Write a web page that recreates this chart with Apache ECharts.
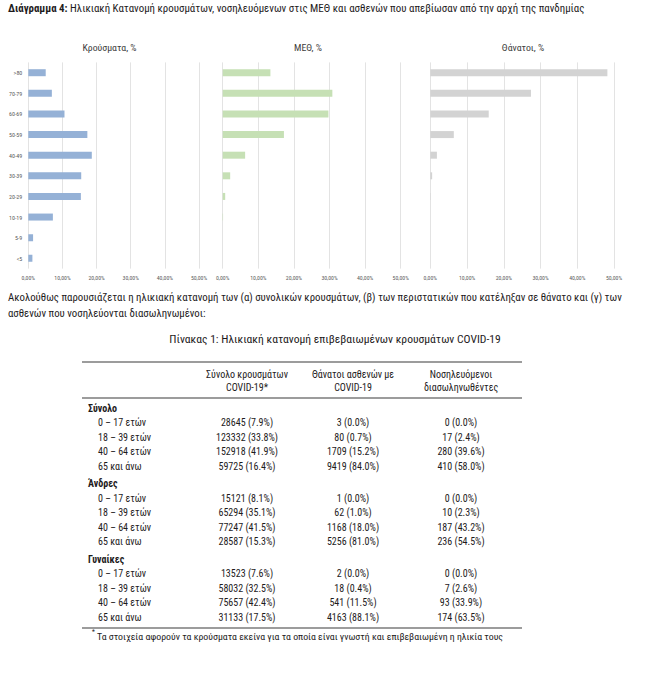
<!DOCTYPE html>
<html>
<head>
<meta charset="utf-8">
<script src="https://cdn.jsdelivr.net/npm/echarts@6/dist/echarts.min.js"></script>
<style>
html,body{margin:0;padding:0;background:#fff;}
#chart{width:666px;height:692px;}
</style>
</head>
<body>
<div id="chart"></div>
<script>
// ---------- DATA ----------
const categories = ['<5', '5-9', '10-19', '20-29', '30-39', '40-49', '50-59', '60-69', '70-79', '>80'];
const casesPct  = [1.2, 1.4, 7.2, 15.4, 15.5, 18.6, 17.3, 10.6, 6.9, 5.1];
const icuPct    = [0, 0, 0.1, 0.7, 2.1, 6.3, 17.2, 29.7, 30.8, 13.4];
const deathsPct = [0, 0, 0, 0.1, 0.5, 1.8, 6.4, 15.9, 27.4, 48.2];
const panelTitles = ['Κρούσματα, %', 'ΜΕΘ, %', 'Θάνατοι, %'];
const tickLabels = ['0,00%', '10,00%', '20,00%', '30,00%', '40,00%', '50,00%'];

const tableTitle = 'Πίνακας 1: Ηλικιακή κατανομή επιβεβαιωμένων κρουσμάτων COVID-19';
const tableHeaders = [['Σύνολο κρουσμάτων', 'COVID-19*'], ['Θάνατοι ασθενών με', 'COVID-19'], ['Νοσηλευόμενοι', 'διασωληνωθέντες']];
const groups = ['Σύνολο', 'Άνδρες', 'Γυναίκες'];
const ageGroups = ['0 – 17 ετών', '18 – 39 ετών', '40 – 64 ετών', '65 και άνω'];
// [count, percent] per age group, per column
const totalCases   = [[28645, 7.9], [123332, 33.8], [152918, 41.9], [59725, 16.4]];
const totalDeaths  = [[3, 0.0], [80, 0.7], [1709, 15.2], [9419, 84.0]];
const totalIntub   = [[0, 0.0], [17, 2.4], [280, 39.6], [410, 58.0]];
const menCases     = [[15121, 8.1], [65294, 35.1], [77247, 41.5], [28587, 15.3]];
const menDeaths    = [[1, 0.0], [62, 1.0], [1168, 18.0], [5256, 81.0]];
const menIntub     = [[0, 0.0], [10, 2.3], [187, 43.2], [236, 54.5]];
const womenCases   = [[13523, 7.6], [58032, 32.5], [75657, 42.4], [31133, 17.5]];
const womenDeaths  = [[2, 0.0], [18, 0.4], [541, 11.5], [4163, 88.1]];
const womenIntub   = [[0, 0.0], [7, 2.6], [93, 33.9], [174, 63.5]];

const titleBold = 'Διάγραμμα 4:';
const titleRest = ' Ηλικιακή Κατανομή κρουσμάτων, νοσηλευόμενων στις ΜΕΘ και ασθενών που απεβίωσαν από την αρχή της πανδημίας';
const paraLines = [
  'Ακολούθως παρουσιάζεται η ηλικιακή κατανομή των (α) συνολικών κρουσμάτων, (β) των περιστατικών που κατέληξαν σε θάνατο και (γ) των',
  'ασθενών που νοσηλεύονται διασωληνωμένοι:'
];
const footnote = 'Τα στοιχεία αφορούν τα κρούσματα εκείνα για τα οποία είναι γνωστή και επιβεβαιωμένη η ηλικία τους';

// ---------- LAYOUT / STYLE ----------
const FONT = "'Liberation Sans Narrow', 'Roboto Condensed', 'Liberation Sans', sans-serif";
const TXT = '#1e1b1c';
const colors = ['#95b1d6', '#c6e0b5', '#d3d3d3'];
const seriesData = [casesPct, icuPct, deathsPct];
const grids = [
  {left: 28.3, width: 170.7},
  {left: 222.7, width: 178},
  {left: 430.3, width: 183.7}
];
const gridTop = 62.4, gridHeight = 206.2;

const chart = echarts.init(document.getElementById('chart'), null, {renderer: 'svg'});

const option = {
  backgroundColor: '#fff',
  animation: false,
  grid: grids.map(g => ({left: g.left, width: g.width, top: gridTop, height: gridHeight, containLabel: false})),
  xAxis: grids.map((g, i) => ({
    type: 'value', gridIndex: i, min: 0, max: 50, interval: 10,
    axisLine: {show: false}, axisTick: {show: false},
    splitLine: {show: true, lineStyle: {color: '#dcdcdc', width: 0.8}},
    axisLabel: {
      formatter: v => tickLabels[Math.round(v / 10)],
      fontSize: 5.8, color: '#595959', fontFamily: FONT, margin: 6
    }
  })),
  yAxis: grids.map((g, i) => ({
    type: 'category', gridIndex: i, data: categories,
    axisLine: {show: false}, axisTick: {show: false},
    axisLabel: {show: i === 0, fontSize: 6, color: '#595959', fontFamily: FONT, margin: 6}
  })),
  series: seriesData.map((d, i) => ({
    type: 'bar', xAxisIndex: i, yAxisIndex: i, data: d,
    barWidth: 7, itemStyle: {color: colors[i]}, silent: true
  })),
  graphic: []
};

const G = option.graphic;
function txt(x, y, text, size, opts) {
  opts = opts || {};
  G.push({
    type: 'text', x: x, y: y, silent: true,
    style: Object.assign({
      text: text, fontSize: size, fontFamily: FONT, fill: opts.fill || TXT,
      fontWeight: opts.bold ? 'bold' : 'normal',
      align: opts.align || 'left', verticalAlign: opts.va || 'middle'
    }, opts.rich ? {rich: opts.rich} : {})
  });
}
function hline(x1, x2, y, w) {
  G.push({type: 'line', silent: true, shape: {x1: x1, y1: y, x2: x2, y2: y}, style: {stroke: '#3a3a3a', lineWidth: w || 1}});
}

// title
txt(8, 8, '{b|' + titleBold + '}{n|' + titleRest + '}', 10.9, {
  rich: {
    b: {fontWeight: 'bold', fontSize: 10.9, fontFamily: FONT, fill: TXT},
    n: {fontSize: 10.9, fontFamily: FONT, fill: TXT}
  }
});
// panel titles
const panelCenters = [109.5, 308, 523];
panelTitles.forEach((t, i) => txt(panelCenters[i], 47, t, 9.8, {align: 'center', fill: '#404040'}));

// paragraph
txt(8, 297, paraLines[0], 10.8);
txt(8, 313, paraLines[1], 10.8);
// table title
txt(335, 339, tableTitle, 11.6, {align: 'center'});

// table
const colX = [247, 353, 461];
hline(82, 522, 362, 1.2);
tableHeaders.forEach((h, i) => {
  txt(colX[i], 374.5, h[0], 10, {align: 'center'});
  txt(colX[i], 387.5, h[1], 10, {align: 'center'});
});
hline(82, 522, 398, 1.2);

const groupCols = [
  [totalCases, totalDeaths, totalIntub],
  [menCases, menDeaths, menIntub],
  [womenCases, womenDeaths, womenIntub]
];
const fmt = p => p[0] + ' (' + p[1].toFixed(1) + '%)';
groups.forEach((gname, g) => {
  const gy = 408 + g * 75.5;
  txt(88, gy, gname, 10, {bold: true});
  ageGroups.forEach((a, r) => {
    const ry = gy + 14.5 * (r + 1);
    txt(98, ry, a, 10);
    groupCols[g].forEach((col, c) => txt(colX[c], ry, fmt(col[r]), 10, {align: 'center'}));
  });
});
hline(82, 522, 628, 1.2);
txt(92, 632, '*', 6.5);
txt(97, 636, footnote, 9.8);

chart.setOption(option);
</script>
</body>
</html>
